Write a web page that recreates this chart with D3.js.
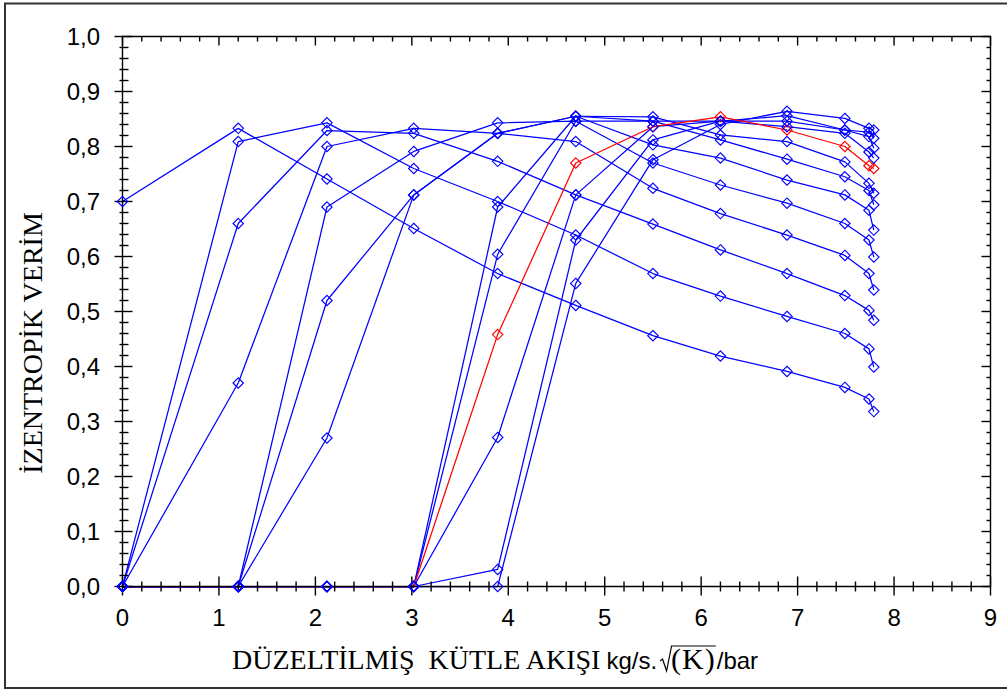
<!DOCTYPE html>
<html>
<head>
<meta charset="utf-8">
<script src="https://cdn.jsdelivr.net/npm/d3@7"></script>
<style>
  body { margin: 0; background: #fff; }
  svg { display: block; }
</style>
</head>
<body>
<div id="chart"></div>
<script>
// corrected mass flow columns shared by every curve
const massFlow = [0, 1.2, 2.12, 3.02, 3.89, 4.7, 5.5, 6.2, 6.89, 7.49, 7.74, 7.79];

// isentropic efficiency of each curve at the columns above
const curveA = [0.700, 0.833, 0.741, 0.651, 0.569, 0.511, 0.456, 0.419, 0.391, 0.362, 0.341, 0.318];
const curveB = [0, 0.809, 0.843, 0.760, 0.700, 0.639, 0.569, 0.528, 0.491, 0.460, 0.432, 0.399];
const curveC = [0, 0.660, 0.829, 0.824, 0.773, 0.712, 0.659, 0.612, 0.569, 0.529, 0.502, 0.484];
const curveD = [0, 0.370, 0.800, 0.833, 0.824, 0.809, 0.724, 0.678, 0.639, 0.602, 0.569, 0.539];
const curveE = [0, 0, 0.690, 0.791, 0.843, 0.846, 0.770, 0.730, 0.697, 0.660, 0.630, 0.599];
const curveF = [0, 0, 0.520, 0.712, 0.824, 0.855, 0.803, 0.779, 0.739, 0.712, 0.684, 0.648];
const curveG = [0, 0, 0.270, 0.712, 0.824, 0.855, 0.846, 0.812, 0.777, 0.745, 0.720, 0.694];
const curveH = [0, 0, 0, 0, 0.690, 0.855, 0.854, 0.821, 0.809, 0.772, 0.733, 0.715];
const curveJ = [0, 0, 0, 0, 0.604, 0.846, 0.846, 0.846, 0.836, 0.824, 0.790, 0.779];
const curveL = [0, 0, 0, 0, 0.271, 0.712, 0.836, 0.846, 0.846, 0.830, 0.818, 0.797];
const curveM = [0, 0, 0, 0, 0.031, 0.630, 0.812, 0.846, 0.856, 0.830, 0.826, 0.815];
const curveN = [0, 0, 0, 0, 0, 0.551, 0.776, 0.840, 0.864, 0.851, 0.833, 0.830];
// the one drawn in red
const curveRed = [0, 0, 0, 0, 0.458, 0.770, 0.836, 0.854, 0.830, 0.800, 0.765, 0.760];

const blueCurves = [curveA, curveB, curveC, curveD, curveE, curveF, curveG, curveH, curveJ, curveL, curveM, curveN];

const xTickValues = [0, 1, 2, 3, 4, 5, 6, 7, 8, 9];
const xTickLabels = ["0", "1", "2", "3", "4", "5", "6", "7", "8", "9"];
const yTickValues = [0, 0.1, 0.2, 0.3, 0.4, 0.5, 0.6, 0.7, 0.8, 0.9, 1.0];
const yTickLabels = ["0,0", "0,1", "0,2", "0,3", "0,4", "0,5", "0,6", "0,7", "0,8", "0,9", "1,0"];

const width = 1007;
const height = 690;

const x = d3.scaleLinear().domain([0, 9]).range([122.5, 990.5]);
const y = d3.scaleLinear().domain([0, 1]).range([586.5, 36.5]);

const blue = "#0000ff",
    red = "#ff0000";

const sans = "'Liberation Sans', Arial, sans-serif";
const serif = "'Liberation Serif', 'Times New Roman', serif";

const svg = d3.select("#chart").append("svg")
    .attr("width", width)
    .attr("height", height);

// outer frame of the picture
svg.append("rect")
    .attr("x", 5)
    .attr("y", 3.5)
    .attr("width", width + 10)
    .attr("height", 684.5)
    .attr("fill", "none")
    .attr("stroke", "#333")
    .attr("stroke-width", 2);

const line = d3.line()
    .x((d, i) => x(massFlow[i]))
    .y(d => y(d));

// curves first, the axes go over the parts lying on zero
const gLines = svg.append("g")
    .attr("fill", "none")
    .attr("stroke-width", 1.25)
    .attr("stroke-linejoin", "round");

gLines.selectAll("path.blue")
    .data(blueCurves)
    .join("path")
    .attr("class", "blue")
    .attr("stroke", blue)
    .attr("d", line);

gLines.append("path")
    .datum(curveRed)
    .attr("stroke", red)
    .attr("d", line);

// axes and ticks
const gAxis = svg.append("g")
    .attr("stroke", "#000")
    .attr("stroke-width", 1.4);

const x0 = x(0), x9 = x(9), y0 = y(0), y1 = y(1);

gAxis.append("path")
    .attr("fill", "none")
    .attr("d", `M${x0},${y0}H${x9}V${y1}H${x0}Z`);

const xMinor = d3.range(0, 46).map(i => i / 5);
const yMinor = d3.range(0, 51).map(i => i / 50);

// bottom: crossing ticks
gAxis.selectAll("line.xb")
    .data(xMinor)
    .join("line")
    .attr("x1", d => x(d)).attr("x2", d => x(d))
    .attr("y1", (d, i) => y0 - (i % 5 == 0 ? 10 : 5))
    .attr("y2", (d, i) => y0 + (i % 5 == 0 ? 9 : 5));

// top: ticks pointing down
gAxis.selectAll("line.xt")
    .data(xMinor)
    .join("line")
    .attr("x1", d => x(d)).attr("x2", d => x(d))
    .attr("y1", y1)
    .attr("y2", (d, i) => y1 + (i % 5 == 0 ? 9 : 5));

// left: crossing ticks
gAxis.selectAll("line.yl")
    .data(yMinor)
    .join("line")
    .attr("y1", d => y(d)).attr("y2", d => y(d))
    .attr("x1", (d, i) => x0 - (i % 5 == 0 ? 8 : 3))
    .attr("x2", (d, i) => x0 + (i % 5 == 0 ? 10 : 6));

// right: ticks pointing left
gAxis.selectAll("line.yr")
    .data(yMinor)
    .join("line")
    .attr("y1", d => y(d)).attr("y2", d => y(d))
    .attr("x1", (d, i) => x9 - (i % 5 == 0 ? 9 : 4))
    .attr("x2", x9);

// markers on top, red ones under the blue ones
const diamond = "M0,-5.2L5.2,0L0,5.2L-5.2,0Z";

function drawMarkers(curve, color) {
    svg.append("g")
        .selectAll("path")
        .data(curve)
        .join("path")
        .attr("d", diamond)
        .attr("transform", (d, i) => `translate(${x(massFlow[i])},${y(d)})`)
        .attr("fill", "none")
        .attr("stroke", color)
        .attr("stroke-width", 1.15);
}
drawMarkers(curveRed, red);
blueCurves.forEach(c => drawMarkers(c, blue));

// tick labels
svg.append("g")
    .style("font-family", sans)
    .style("font-size", "24px")
    .attr("fill", "#000")
    .attr("text-anchor", "middle")
    .selectAll("text")
    .data(xTickValues)
    .join("text")
    .attr("x", d => x(d))
    .attr("y", 626)
    .text((d, i) => xTickLabels[i]);

svg.append("g")
    .style("font-family", sans)
    .style("font-size", "24px")
    .attr("fill", "#000")
    .attr("text-anchor", "end")
    .selectAll("text")
    .data(yTickValues)
    .join("text")
    .attr("x", 100)
    .attr("y", d => y(d))
    .attr("dy", "0.36em")
    .text((d, i) => yTickLabels[i]);

// y title
svg.append("text")
    .attr("transform", "translate(42,343) rotate(-90)")
    .attr("text-anchor", "middle")
    .style("font-family", serif)
    .style("font-size", "28px")
    .attr("fill", "#000")
    .text("İZENTROPİK VERİM");

// x title, built piece by piece
const titleY = 669;
let cx = 232;

const t1 = svg.append("text")
    .attr("x", cx).attr("y", titleY)
    .style("font-family", serif)
    .style("font-size", "28px")
    .style("white-space", "pre")
    .attr("fill", "#000")
    .text("DÜZELTİLMİŞ  KÜTLE AKIŞI");
cx += t1.node().getComputedTextLength() + 6;

const t2 = svg.append("text")
    .attr("x", cx).attr("y", titleY)
    .style("font-family", sans)
    .style("font-size", "24px")
    .attr("fill", "#000")
    .text("kg/s.");
cx += t2.node().getComputedTextLength() + 3;

const rootStart = cx;
cx += 11;
const t3 = svg.append("text")
    .attr("x", cx).attr("y", titleY)
    .style("font-family", serif)
    .style("font-size", "30px")
    .style("letter-spacing", "1px")
    .attr("fill", "#000")
    .text("(K)");
const kEnd = cx + t3.node().getComputedTextLength();

// square root sign with its bar over (K)
svg.append("path")
    .attr("d", `M${rootStart},${titleY - 8}l2.5,-2l4,12l5,-25H${kEnd}`)
    .attr("fill", "none")
    .attr("stroke", "#000")
    .attr("stroke-width", 1.2);

cx = kEnd + 1;
svg.append("text")
    .attr("x", cx).attr("y", titleY)
    .style("font-family", sans)
    .style("font-size", "24px")
    .attr("fill", "#000")
    .text("/bar");
</script>
</body>
</html>
